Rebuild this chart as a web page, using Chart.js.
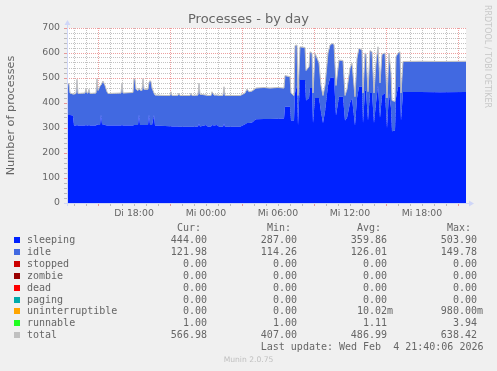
<!DOCTYPE html>
<html><head><meta charset="utf-8">
<script src="https://cdn.jsdelivr.net/npm/chart.js@4/dist/chart.umd.min.js"></script>
<style>
html,body{margin:0;padding:0;background:#f0f0f0;}
body{width:497px;height:371px;overflow:hidden;position:relative;font-family:"DejaVu Sans",sans-serif;}
#c{position:absolute;left:0;top:0;}
.txt{position:absolute;white-space:pre;color:#666;}
.mono{font-family:"DejaVu Sans Mono",monospace;font-size:10px;line-height:12px;height:12px;}
.sq{position:absolute;width:6px;height:6px;}
</style></head><body>
<canvas id="c" width="497" height="371"></canvas>
<div class="txt" id="title" style="left:0;width:497px;text-align:center;top:11px;font-size:13px;line-height:16px;">Processes - by day</div>
<div class="txt" id="wm" style="left:483px;top:5px;font-size:8px;line-height:8px;color:#c8c8c8;transform-origin:0 0;transform:translate(8px,0) rotate(90deg);">RRDTOOL / TOBI OETIKER</div>
<div id="legend"></div>
<div class="txt" id="munin" style="left:0;width:497px;text-align:center;top:355px;font-size:7.6px;line-height:10px;color:#c0c0c0;">Munin 2.0.75</div>
<script>
// ---- data (x = minutes since Tue 00:00) ----
const times = [745,755,760,775,780,790,795,800,835,840,845,850,855,860,890,895,900,910,915,920,925,935,945,950,1015,1020,1025,1075,1080,1085,1090,1100,1105,1110,1120,1125,1130,1150,1155,1160,1165,1170,1180,1185,1235,
1260,1265,1270,1300,1305,1310,1360,1365,1370,1400,1405,1410,1440,1450,1465,1470,1480,1495,1505,1525,1530,1535,1610,1635,1645,1655,1670,1690,1730,
1760,1800,1830,1835,1860,1865,1880,1885,1895,1900,1910,1935,1940,1955,1960,1970,1975,1985,2005,2015,2025,2035,2050,2060,2070,2080,2090,2105,2125,2135,2145,2160,2170,2185,2195,2205,2220,2225,2235,
2240,2250,2260,2270,2280,2290,2300,2310,2320,2335,2345,2355,2365,2370,2385,2390,2400,2410,2415,2425,2510,2610,2740];
const sleeping = [352,352,352,350,310,310,312,310,310,312,310,310,312,310,310,315,312,312,355,315,315,312,310,310,310,312,310,310,312,312,312,312,355,312,312,312,312,312,355,312,312,312,352,310,308,
307,307,306,306,305,305,305,305,305,306,318,306,312,305,306,312,310,312,305,305,318,305,305,315,320,320,322,335,336,
336,337,338,385,385,330,330,440,470,310,492,492,410,420,460,460,320,420,420,365,320,365,470,499,503,499,350,425,425,330,340,400,420,310,420,465,465,320,450,
450,330,440,440,320,400,470,340,430,440,300,440,380,287,290,420,465,465,330,444,444,443,444];
const idle = [129,123,87,85,125,127,182,127,129,145,129,129,142,127,129,182,137,155,116,164,172,157,134,127,129,167,129,131,185,182,142,137,104,139,137,185,142,142,126,177,172,147,87,121,121,
122,137,123,124,134,124,124,134,124,125,161,128,119,124,123,132,121,119,124,125,146,124,124,124,135,124,125,124,125,
123,124,121,124,119,109,99,189,161,119,132,129,119,124,144,139,119,179,139,104,109,104,129,132,134,135,119,146,144,99,114,139,139,114,159,153,146,119,149,
147,114,169,164,119,159,154,139,164,159,119,159,139,122,116,164,134,139,109,121,122,122,122];
const total = [482,476,440,436,436,438,495,438,440,458,440,440,455,438,440,498,450,468,472,480,488,470,445,438,440,480,440,442,498,495,455,450,460,452,450,498,455,455,482,490,485,460,440,432,430,
430,445,430,431,440,430,430,440,430,432,480,435,432,430,430,445,432,432,430,431,465,430,430,440,456,445,448,460,462,
460,462,460,510,505,440,430,630,632,430,625,622,530,545,605,600,440,600,560,470,430,470,600,632,638,635,470,572,570,430,455,540,560,425,580,619,612,440,600,
598,445,610,605,440,560,625,480,595,600,420,600,520,410,407,585,600,605,440,566,567,566,567];

const tickMinutes = [1080,1440,1800,2160,2520];
const tickLabels = ['Di 18:00','Mi 00:00','Mi 06:00','Mi 12:00','Mi 18:00'];
const yLabels = [0,100,200,300,400,500,600,700];

const names = ['sleeping','idle','stopped','zombie','dead','paging','uninterruptible','runnable','total'];
const colors = ['#0022ff','#4169e1','#cc0000','#990000','#ff0000','#00aaaa','#ffa500','#22ff22','#c0c0c0'];
const curVals = ['444.00 ','121.98 ','0.00 ','0.00 ','0.00 ','0.00 ','0.00 ','1.00 ','566.98 '];
const minVals = ['287.00 ','114.26 ','0.00 ','0.00 ','0.00 ','0.00 ','0.00 ','1.00 ','407.00 '];
const avgVals = ['359.86 ','126.01 ','0.00 ','0.00 ','0.00 ','0.00 ','10.02m','1.11 ','486.99 '];
const maxVals = ['503.90 ','149.78 ','0.00 ','0.00 ','0.00 ','0.00 ','980.00m','3.94 ','638.42 '];
const headers = ['Cur:  ','Min:  ','Avg:  ','Max:  '];
const lastUpdate = 'Last update: Wed Feb  4 21:40:06 2026';

// ---- legend (real text) ----
const leg = document.getElementById('legend');
const colRight = [213,303,393,483];
function addText(txt, right, cy){
  const d = document.createElement('div');
  d.className = 'txt mono';
  d.style.left = (right-300)+'px'; d.style.width='300px'; d.style.textAlign='right';
  d.style.top = (cy-6)+'px';
  d.textContent = txt; leg.appendChild(d);
}
headers.forEach((h,j)=>addText(h, colRight[j], 227.8));
names.forEach((n,k)=>{
  const cy = 239.8 + 11.94*k;
  const s = document.createElement('div'); s.className='sq';
  s.style.left='14px'; s.style.top=(cy-3)+'px'; s.style.background=colors[k]; leg.appendChild(s);
  const d = document.createElement('div'); d.className='txt mono';
  d.style.left='27px'; d.style.top=(cy-6)+'px'; d.textContent=n; leg.appendChild(d);
  [curVals,minVals,avgVals,maxVals].forEach((arr,j)=>addText(arr[k], colRight[j], cy));
});
addText(lastUpdate, 483.5, 347.3);

// ---- chart ----
Chart.defaults.font.family = "'DejaVu Sans', sans-serif";
Chart.defaults.color = '#666';
const GRID = 'rgba(143,143,143,0.55)';
const MGRID = 'rgba(222,80,80,0.55)';
const AXIS = '#cfd6f8';

const bgPlugin = {
  id:'bg',
  beforeDraw(chart){
    const {ctx, chartArea:a} = chart;
    ctx.save(); ctx.fillStyle='#ffffff';
    ctx.fillRect(a.left, a.top, a.right-a.left, a.bottom-a.top);
    ctx.restore();
  }
};
const axisPlugin = {
  id:'axes',
  afterDraw(chart){
    const {ctx, chartArea:a} = chart;
    ctx.save();
    ctx.strokeStyle = AXIS; ctx.fillStyle = AXIS; ctx.lineWidth = 1;
    const yb = Math.round(a.bottom)+0.5, xl = Math.round(a.left)+0.5;
    ctx.beginPath(); ctx.moveTo(a.left-3, yb); ctx.lineTo(a.right+4, yb); ctx.stroke();
    ctx.beginPath(); ctx.moveTo(a.right+3, yb-3); ctx.lineTo(a.right+8, yb); ctx.lineTo(a.right+3, yb+3); ctx.closePath(); ctx.fill();
    ctx.beginPath(); ctx.moveTo(xl, a.bottom+3); ctx.lineTo(xl, a.top-4); ctx.stroke();
    ctx.beginPath(); ctx.moveTo(xl-3, a.top-3); ctx.lineTo(xl, a.top-8); ctx.lineTo(xl+3, a.top-3); ctx.closePath(); ctx.fill();
    ctx.restore();
  }
};

const pts = arr => times.map((t,k)=>({x:t, y:arr[k]}));

new Chart(document.getElementById('c'), {
  type:'line',
  data:{ datasets:[
    {label:'sleeping', data:pts(sleeping), backgroundColor:'#0022ff', borderColor:'transparent', borderWidth:0, fill:'origin', pointRadius:0, stack:'p'},
    {label:'idle', data:pts(idle), backgroundColor:'#4169e1', borderColor:'transparent', borderWidth:0, fill:'-1', pointRadius:0, stack:'p'},
    {label:'total', data:pts(total), borderColor:'#c0c0c0', backgroundColor:'#c0c0c0', borderWidth:1, fill:false, pointRadius:0, stack:'t', order:-1}
  ]},
  options:{
    responsive:false, animation:false, devicePixelRatio:1,
    layout:{padding:{left:0, right:31, top:28, bottom:148}},
    plugins:{legend:{display:false}, tooltip:{enabled:false}, title:{display:false}},
    elements:{line:{tension:0}},
    scales:{
      x:{
        type:'linear', min:745, max:2740, z:1,
        afterBuildTicks(s){ const t=[]; for(let m=780;m<=2700;m+=60) t.push({value:m}); s.ticks=t; },
        afterFit(s){ s.height = 20; },
        ticks:{autoSkip:false, maxRotation:0, minRotation:0, padding:2, font:{size:9.33}, color:'#666',
          callback(v){ const i = tickMinutes.indexOf(v); return i>=0 ? tickLabels[i] : ''; }},
        grid:{drawTicks:true, tickLength:3, lineWidth:1,
          color(c){ return (c.tick && (c.tick.value-180)%360===0) ? MGRID : GRID; }},
        border:{display:false, dash:[1,1]}
      },
      y:{
        stacked:true, min:0, max:700, z:1,
        afterFit(s){ s.width = 67; },
        ticks:{stepSize:20, autoSkip:false, padding:4, font:{size:9.33}, color:'#666',
          callback(v){ return yLabels.includes(v) ? String(v) : ''; }},
        grid:{drawTicks:true, tickLength:3, lineWidth:1,
          color(c){ return (c.tick && c.tick.value%100===0) ? MGRID : GRID; }},
        border:{display:false, dash:[1,1]},
        title:{display:true, text:'Number of processes', color:'#666', font:{size:11.3}, padding:{top:4,bottom:0}}
      }
    }
  },
  plugins:[bgPlugin, axisPlugin]
});
</script>
</body></html>
